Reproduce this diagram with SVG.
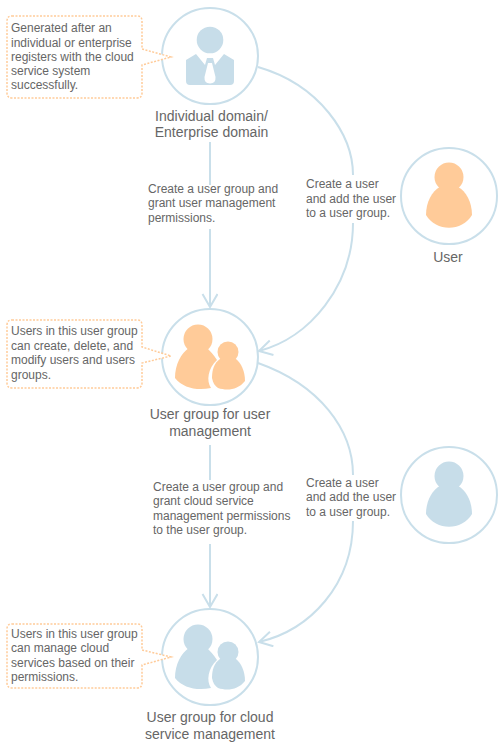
<svg xmlns="http://www.w3.org/2000/svg" width="500" height="747" viewBox="0 0 500 747">
<style>
text{font-family:"Liberation Sans",Arial,sans-serif;fill:#666}
.t{font-size:12px}
.l{font-size:14px;text-anchor:middle}
.ring{fill:#fff;stroke:#c9dfea;stroke-width:2}
.con{fill:none;stroke:#c9dfea;stroke-width:2}
.call{fill:#fff;stroke:#ffcb99;stroke-width:1.5;stroke-dasharray:2 1.5}
.b{fill:#c7dde9}
.o{fill:#ffcb99}
</style>
<defs>
<marker id="arr" markerWidth="18" markerHeight="18" refX="14" refY="8" orient="auto" markerUnits="userSpaceOnUse"><path d="M1 .5L14 8L1 15.500" fill="none" stroke="#c9dfea" stroke-width="2"/></marker>
<g id="person"><circle cx="0" cy="-22" r="14.5"/><path d="M-9-12C-17-8-23 3-23 16C-13 33 13 33 23 16C23 3 17-8 9-12Z"/></g>
<g id="group">
<circle cx="-12" cy="-18" r="14.500"/>
<path d="M-21-9C-29-4-35 8-35 21C-27 31-13 34 1 31C-4 24-2 11 7 3C4-2 0-6-3-9Z"/>
<circle cx="18" cy="-5" r="10.5"/>
<path d="M10 2C4 6 2 13 2 21C3 26 5 29 8 31C17 34 28 33 35 24C35 14 31 6 26 2Z"/>
</g>
</defs>
<g id="connectors">
<path class="con" d="M210 142V185"/>
<path class="con" d="M210 229V307" marker-end="url(#arr)"/>
<path class="con" d="M210 445V480"/>
<path class="con" d="M210 544V607" marker-end="url(#arr)"/>
<path class="con" d="M258 67C320 85 353 135 353 175"/>
<path class="con" d="M353 223C353 285 310 338 259 351" marker-end="url(#arr)"/>
<path class="con" d="M258 363C320 385 353 430 353 475"/>
<path class="con" d="M353 521C353 585 310 630 259 642" marker-end="url(#arr)"/>
</g>
<g id="node-domain">
<circle class="ring" cx="210" cy="56" r="48"/>
<circle class="b" cx="210" cy="40" r="13.3"/>
<path class="b" d="M186 60L196 54L205 65L207 58H213L215 65L224 54L234 60V81Q234 85 230 85H190Q186 85 186 81Z"/>
<path fill="#fff" d="M208 63L204.500 77Q204 83.500 210 83.500Q216 83.500 215.500 77L212 63Z"/>
<text class="l" x="211.500" y="121">Individual domain/</text>
<text class="l" x="211.500" y="137">Enterprise domain</text>
</g>
<g id="callout-domain">
<path class="call" d="M12 16H137Q142 16 142 21V49L171 57L142 65V93Q142 98 137 98H12Q7 98 7 93V21Q7 16 12 16Z"/>
<text class="t"><tspan x="11" y="32">Generated after an</tspan><tspan x="11" y="46.500">individual or enterprise</tspan><tspan x="11" y="61">registers with the cloud</tspan><tspan x="11" y="75">service system</tspan><tspan x="11" y="89">successfully.</tspan></text>
</g>
<g id="node-user">
<circle class="ring" cx="449" cy="196" r="48"/>
<use href="#person" x="449" y="199" class="o"/>
<text class="l" x="448" y="262">User</text>
</g>
<g id="node-mgmt">
<circle class="ring" cx="210" cy="357" r="48"/>
<use href="#group" x="210" y="357" class="o"/>
<text class="l" x="210" y="419">User group for user</text>
<text class="l" x="210" y="436">management</text>
</g>
<g id="callout-mgmt">
<path class="call" d="M12 320H137Q142 320 142 325V347L171 356L142 363V383Q142 388 137 388H12Q7 388 7 383V325Q7 320 12 320Z"/>
<text class="t"><tspan x="11" y="335">Users in this user group</tspan><tspan x="11" y="350">can create, delete, and</tspan><tspan x="11" y="364">modify users and users</tspan><tspan x="11" y="379">groups.</tspan></text>
</g>
<g id="node-blank">
<circle class="ring" cx="449" cy="495" r="48"/>
<use href="#person" x="449" y="498" class="b"/>
</g>
<g id="node-cloud">
<circle class="ring" cx="210" cy="657" r="48"/>
<use href="#group" x="210" y="657" class="b"/>
<text class="l" x="210" y="722">User group for cloud</text>
<text class="l" x="210" y="739">service management</text>
</g>
<g id="callout-cloud">
<path class="call" d="M12 624H137Q142 624 142 629V650L171 657L142 665V683Q142 688 137 688H12Q7 688 7 683V629Q7 624 12 624Z"/>
<text class="t"><tspan x="11" y="638">Users in this user group</tspan><tspan x="11" y="652">can manage cloud</tspan><tspan x="11" y="667">services based on their</tspan><tspan x="11" y="681">permissions.</tspan></text>
</g>
<g id="labels">
<text class="t"><tspan x="148" y="193">Create a user group and</tspan><tspan x="148" y="207">grant user management</tspan><tspan x="148" y="222">permissions.</tspan></text>
<text class="t"><tspan x="306" y="188">Create a user</tspan><tspan x="306" y="203">and add the user</tspan><tspan x="306" y="217">to a user group.</tspan></text>
<text class="t"><tspan x="153" y="491">Create a user group and</tspan><tspan x="153" y="505">grant cloud service</tspan><tspan x="153" y="520">management permissions</tspan><tspan x="153" y="534">to the user group.</tspan></text>
<text class="t"><tspan x="306" y="487">Create a user</tspan><tspan x="306" y="501">and add the user</tspan><tspan x="306" y="516">to a user group.</tspan></text>
</g>
</svg>
